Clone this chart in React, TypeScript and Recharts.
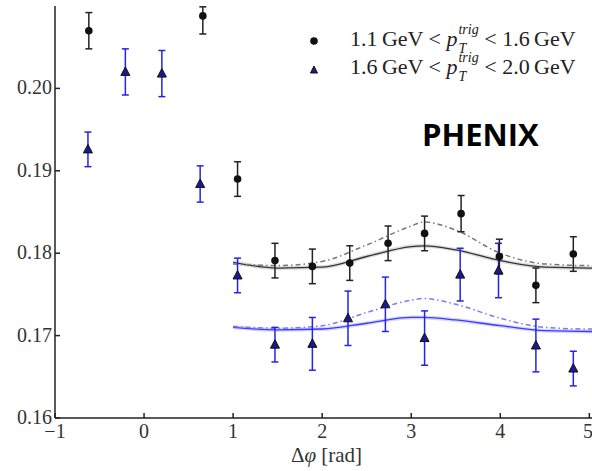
import React from "react";
import {
  ComposedChart,
  Scatter,
  Line,
  XAxis,
  YAxis,
  ErrorBar,
} from "recharts";

// black circles: 1.1 GeV < pT < 1.6 GeV
const lowX = [-0.62, 0.66, 1.05, 1.47, 1.89, 2.31, 2.74, 3.15, 3.56, 3.99, 4.4, 4.82];
const lowY = [0.207, 0.2088, 0.189, 0.1791, 0.1784, 0.1788, 0.1812, 0.1824, 0.1848, 0.1796, 0.1761, 0.1799];
const lowErr: (number | number[])[] = [0.0022, [0.0022, 0.0011], 0.0021, 0.0021, 0.0021, 0.0021, 0.0021, 0.0021, 0.0022, 0.0021, 0.0021, 0.0021];

// blue triangles: 1.6 GeV < pT < 2.0 GeV
const highX = [-0.63, -0.21, 0.2, 0.63, 1.05, 1.47, 1.89, 2.29, 2.71, 3.15, 3.55, 3.98, 4.4, 4.82];
const highY = [0.1926, 0.202, 0.2018, 0.1884, 0.1773, 0.1689, 0.169, 0.1721, 0.1738, 0.1697, 0.1774, 0.1779, 0.1688, 0.166];
const highErr = [0.0021, 0.0028, 0.0028, 0.0022, 0.0021, 0.0021, 0.0032, 0.0033, 0.0033, 0.0033, 0.0032, 0.0033, 0.0032, 0.0021];

// model curves
const curveX = [1.0, 1.5, 2.0, 2.5, 3.0, 3.14, 3.5, 4.0, 4.5, 5.0, 5.03];
const lowSolid = [0.1789, 0.1782, 0.1783, 0.1796, 0.1808, 0.1809, 0.1804, 0.1791, 0.1783, 0.1782, 0.1782];
const lowDashed = [0.1787, 0.1785, 0.179, 0.181, 0.1833, 0.1838, 0.1828, 0.18, 0.1787, 0.1785, 0.1785];
const highSolid = [0.171, 0.1707, 0.1708, 0.1715, 0.1722, 0.1722, 0.1719, 0.1712, 0.1706, 0.1705, 0.1705];
const highDashed = [0.1711, 0.1709, 0.1712, 0.1728, 0.1743, 0.1745, 0.1738, 0.1721, 0.171, 0.1708, 0.1708];

const xTicks = [-1, 0, 1, 2, 3, 4, 5];
const yTicks = [0.16, 0.17, 0.18, 0.19, 0.2];

const lowData = lowX.map((x, i) => ({ x, y: lowY[i], err: lowErr[i] }));
const highData = highX.map((x, i) => ({ x, y: highY[i], err: highErr[i] }));
const curve = (ys: number[]) => curveX.map((x, i) => ({ x, y: ys[i] }));

const serif = "'Liberation Serif', 'DejaVu Serif', serif";

const XTick = (props: any) => {
  const { x, y, payload } = props;
  return (
    <text x={x} y={y + 14} textAnchor="middle" fontFamily={serif} fontSize={20} fill="#333">
      {String(payload.value).replace("-", "\u2212")}
    </text>
  );
};

const YTick = (props: any) => {
  const { x, y, payload } = props;
  return (
    <text x={x} y={y + 6} textAnchor="end" fontFamily={serif} fontSize={20} fill="#333">
      {Number(payload.value).toFixed(2)}
    </text>
  );
};

const Dot = (props: any) => (
  <circle cx={props.cx} cy={props.cy} r={3.8} fill="#111" />
);

const Tri = (props: any) => {
  const { cx, cy } = props;
  return (
    <path
      d={`M${cx},${cy - 5} L${cx + 4.5},${cy + 3.5} L${cx - 4.5},${cy + 3.5} Z`}
      fill="#1a1a8c"
      stroke="#111"
      strokeWidth={1}
    />
  );
};

const XLabel = (props: any) => {
  const vb = props.viewBox;
  return (
    <text
      x={vb.x + vb.width / 2 + 3}
      y={462}
      textAnchor="middle"
      fontFamily={serif}
      fontSize={21}
      fill="#333"
    >
      Δ<tspan fontStyle="italic">φ</tspan> [rad]
    </text>
  );
};

const Pt = () => (
  <span>
    <i>p</i>
    <span style={{ display: "inline-flex", flexDirection: "column", verticalAlign: "middle", lineHeight: "12px", fontSize: 14, marginLeft: 1 }}>
      <i style={{ position: "relative", top: -5 }}>trig</i>
      <i style={{ position: "relative", top: 2 }}>T</i>
    </span>
  </span>
);

const legendRow = (from: string, to: string) => (
  <span style={{ whiteSpace: "nowrap" }}>
    {from}&thinsp;GeV &lt; <Pt /> &lt; {to}&thinsp;GeV
  </span>
);

export default function App() {
  return (
    <div style={{ position: "absolute", left: 0, top: 0, width: 592, height: 471, background: "#fff", overflow: "hidden" }}>
      <ComposedChart width={592} height={471} margin={{ top: 6, right: 0, left: 0, bottom: 0 }}>
        <XAxis
          xAxisId="b"
          type="number"
          dataKey="x"
          domain={[-1, 5.03]}
          ticks={xTicks}
          allowDataOverflow
          height={53}
          tickSize={-5}
          tickMargin={11}
          tick={<XTick />}
          axisLine={{ stroke: "#222", strokeWidth: 1.5 }}
          tickLine={{ stroke: "#222", strokeWidth: 1.5 }}
          label={<XLabel />}
        />
        <XAxis
          xAxisId="t"
          orientation="top"
          type="number"
          dataKey="x"
          domain={[-1, 5.03]}
          ticks={xTicks}
          allowDataOverflow
          height={0}
          tickSize={-5}
          tick={false}
          axisLine={{ stroke: "#222", strokeWidth: 1.5 }}
          tickLine={{ stroke: "#222", strokeWidth: 1.5 }}
        />
        <YAxis
          type="number"
          dataKey="y"
          domain={[0.16, 0.21]}
          ticks={yTicks}
          allowDataOverflow
          width={55}
          tickSize={-5}
          tickMargin={8}
          tick={<YTick />}
          axisLine={{ stroke: "#222", strokeWidth: 1.5 }}
          tickLine={{ stroke: "#222", strokeWidth: 1.5 }}
        />
        <Line xAxisId="b" data={curve(lowSolid)} dataKey="y" type="monotone" stroke="#ddd" strokeWidth={4} dot={false} isAnimationActive={false} />
        <Line xAxisId="b" data={curve(lowSolid)} dataKey="y" type="monotone" stroke="#333" strokeWidth={1.3} dot={false} isAnimationActive={false} />
        <Line xAxisId="b" data={curve(lowDashed)} dataKey="y" type="monotone" stroke="#777" strokeWidth={1.5} strokeDasharray="5 3 1.5 3" dot={false} isAnimationActive={false} />
        <Line xAxisId="b" data={curve(highSolid)} dataKey="y" type="monotone" stroke="#d8d8ff" strokeWidth={4} dot={false} isAnimationActive={false} />
        <Line xAxisId="b" data={curve(highSolid)} dataKey="y" type="monotone" stroke="#3a3aff" strokeWidth={1.3} dot={false} isAnimationActive={false} />
        <Line xAxisId="b" data={curve(highDashed)} dataKey="y" type="monotone" stroke="#7a7aff" strokeWidth={1.5} strokeDasharray="5 3 1.5 3" dot={false} isAnimationActive={false} />
        <Scatter xAxisId="b" data={highData} dataKey="y" shape={<Tri />} isAnimationActive={false}>
          <ErrorBar dataKey="err" direction="y" width={3.5} stroke="#2323ee" strokeWidth={1.5} isAnimationActive={false} />
        </Scatter>
        <Scatter xAxisId="b" data={lowData} dataKey="y" shape={<Dot />} isAnimationActive={false}>
          <ErrorBar dataKey="err" direction="y" width={3.5} stroke="#222" strokeWidth={1.5} isAnimationActive={false} />
        </Scatter>
      </ComposedChart>

      <div style={{ position: "absolute", left: 308, top: 25, fontFamily: serif, fontSize: 22, color: "#222", lineHeight: "27px" }}>
        <div style={{ display: "flex", alignItems: "center" }}>
          <svg width={42} height={20}><circle cx={6} cy={12} r={3.8} fill="#111" /></svg>
          {legendRow("1.1", "1.6")}
        </div>
        <div style={{ display: "flex", alignItems: "center" }}>
          <svg width={42} height={20}><path d="M6,9 L9.5,16 L2.5,16 Z" fill="#1a1a8c" stroke="#111" strokeWidth={1} /></svg>
          {legendRow("1.6", "2.0")}
        </div>
      </div>

      <div style={{ position: "absolute", left: 422, top: 113, fontFamily: "'Open Sans', 'Liberation Sans', sans-serif", fontWeight: 700, fontSize: 31, color: "#000", lineHeight: "normal" }}>
        PHENIX
      </div>
    </div>
  );
}
